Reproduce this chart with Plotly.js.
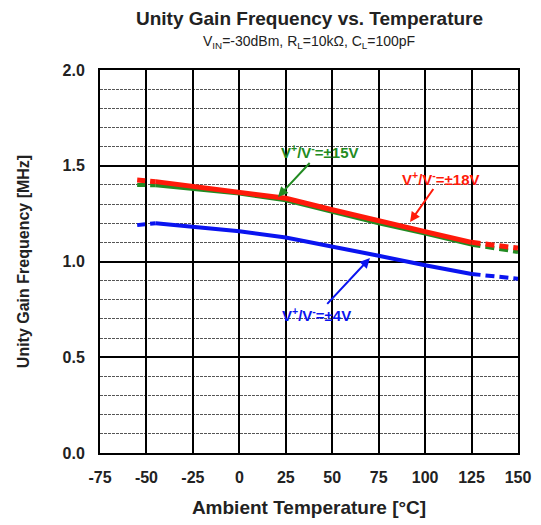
<!DOCTYPE html>
<html><head><meta charset="utf-8">
<script src="https://cdn.plot.ly/plotly-3.0.1.min.js"></script>
<style>html,body{margin:0;padding:0;background:#fff}#c{width:541px;height:525px}</style>
</head><body><div id="c"></div>
<script>
// Temperatures [°C]
const tSolid = [-45, -25, 0, 25, 50, 75, 100, 125];
const tDashL = [-55, -45];
const tDashR = [125, 150];
// Unity gain frequency [MHz]
const red18Solid = [1.417, 1.394, 1.364, 1.33, 1.27, 1.21, 1.156, 1.10];
const red18DashL = [1.425, 1.417];
const red18DashR = [1.10, 1.07];
const green15Solid = [1.398, 1.377, 1.355, 1.32, 1.26, 1.20, 1.146, 1.088];
const green15DashL = [1.40, 1.398];
const green15DashR = [1.088, 1.05];
const blue4Solid = [1.20, 1.18, 1.158, 1.125, 1.08, 1.03, 0.98, 0.935];
const blue4DashL = [1.19, 1.20];
const blue4DashR = [0.935, 0.91];
// Tick labels
const xTickVals = [-75, -50, -25, 0, 25, 50, 75, 100, 125, 150];
const xTickText = ['-75', '-50', '-25', '0', '25', '50', '75', '100', '125', '150'];
const yTickVals = [0, 0.5, 1, 1.5, 2];
const yTickText = ['0.0', '0.5', '1.0', '1.5', '2.0'];

const RED = '#ff1a0a', GREEN = '#228b22', BLUE = '#0a14f0';
function tr(x, y, c, w, dash) {
  return {x: x, y: y, type: 'scatter', mode: 'lines', showlegend: false,
    line: {color: c, width: w, dash: dash}, hoverinfo: 'skip'};
}
const data = [
  tr(tSolid, blue4Solid, BLUE, 4, 'solid'),
  tr(tDashL, blue4DashL, BLUE, 4, '8px,5px'),
  tr(tDashR, blue4DashR, BLUE, 4, '9px,5px'),
  tr(tSolid, green15Solid, GREEN, 4, 'solid'),
  tr(tDashL, green15DashL, GREEN, 4, '8px,5px'),
  tr(tDashR, green15DashR, GREEN, 4, '9px,5px'),
  tr(tSolid, red18Solid, RED, 5, 'solid'),
  tr(tDashL, red18DashL, RED, 5, '8px,5px'),
  tr(tDashR, red18DashR, RED, 5, '9px,5px')
];
const F = 'Liberation Sans, Arial, sans-serif';
const ann = (txt, c, x, y, hx, hy) => ({
  text: txt, x: hx, y: hy, xref: 'x', yref: 'y', ax: x, ay: y, axref: 'x', ayref: 'y',
  showarrow: true, arrowhead: 2, arrowsize: 1, arrowwidth: 2, arrowcolor: c,
  font: {family: F, size: 15, color: c, weight: 'bold'}, bgcolor: 'rgba(255,255,255,0)'
});
const layout = {
  width: 541, height: 525,
  margin: {l: 100, r: 23, t: 70, b: 72},
  paper_bgcolor: '#fff', plot_bgcolor: '#fff',
  font: {family: F, color: '#222'},
  xaxis: {range: [-75, 150], tickmode: 'array', tickvals: xTickVals, ticktext: xTickText,
    showgrid: true, gridcolor: '#000', gridwidth: 2,
    showline: true, linecolor: '#000', linewidth: 2, mirror: true, zeroline: false, ticks: '',
    ticklabelstandoff: 9,
    tickfont: {family: F, size: 16, color: '#222', weight: 'bold'},
    title: {text: 'Ambient Temperature [°C]', font: {family: F, size: 19, color: '#222', weight: 'bold'}, standoff: 15}},
  yaxis: {range: [0, 2], tickmode: 'array', tickvals: yTickVals, ticktext: yTickText,
    showgrid: true, gridcolor: '#000', gridwidth: 2,
    showline: true, linecolor: '#000', linewidth: 2, mirror: true, zeroline: false, ticks: '',
    ticklabelstandoff: 10,
    minor: {dtick: 0.1, tick0: 0, showgrid: true, gridcolor: '#555', gridwidth: 1, griddash: '3px,1px'},
    tickfont: {family: F, size: 16, color: '#222', weight: 'bold'},
    title: {text: 'Unity Gain Frequency [MHz]', font: {family: F, size: 16, color: '#222', weight: 'bold'}, standoff: 29}},
  annotations: [
    {text: 'Unity Gain Frequency vs. Temperature', xref: 'paper', yref: 'paper', x: 0.5, y: 1, yanchor: 'middle', yshift: 52,
      showarrow: false, font: {family: F, size: 19, color: '#222', weight: 'bold'}},
    {text: 'V<sub>IN</sub>=-30dBm, R<sub>L</sub>=10kΩ, C<sub>L</sub>=100pF', xref: 'paper', yref: 'paper', x: 0.5, y: 1, yanchor: 'middle', yshift: 28,
      showarrow: false, font: {family: F, size: 14, color: '#222'}},
    ann('V<sup>+</sup>/V<sup>-</sup>=±15V', GREEN, 43.4, 1.572, 20.8, 1.337),
    ann('V<sup>+</sup>/V<sup>-</sup>=±18V', RED, 108.6, 1.436, 91.9, 1.206),
    ann('V<sup>+</sup>/V<sup>-</sup>=±4V', BLUE, 41.8, 0.721, 70.3, 1.018)
  ]
};
Plotly.newPlot('c', data, layout, {displayModeBar: false, staticPlot: true});
</script></body></html>
